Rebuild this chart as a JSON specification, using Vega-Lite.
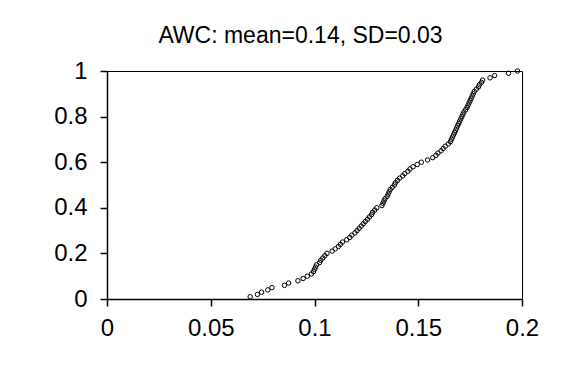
{
  "$schema": "https://vega.github.io/schema/vega-lite/v6.json",
  "autosize": {"type": "none"},
  "padding": {"left": 107, "top": 71, "right": 40, "bottom": 84},
  "width": 415,
  "height": 228,
  "background": "#FFFFFF",
  "title": {
    "text": "AWC: mean=0.14, SD=0.03",
    "font": "Liberation Sans",
    "fontSize": 23,
    "fontWeight": "normal",
    "color": "#000000",
    "anchor": "middle",
    "frame": "group",
    "offset": 11,
    "dx": -14
  },
  "config": {
    "view": {"stroke": "#000000", "strokeWidth": 1},
    "axis": {
      "domainColor": "#000000",
      "domainWidth": 1.5,
      "tickColor": "#000000",
      "tickWidth": 1.5,
      "tickSize": 7,
      "labelFont": "Liberation Sans",
      "labelFontSize": 24,
      "labelColor": "#000000",
      "grid": false,
      "title": null
    }
  },
  "data": {
    "values": [
      {"x": 0.069, "p": 0.01}, {"x": 0.0725, "p": 0.02}, {"x": 0.0745, "p": 0.03}, {"x": 0.0775, "p": 0.04}, {"x": 0.0795, "p": 0.05},
      {"x": 0.0855, "p": 0.06}, {"x": 0.0875, "p": 0.07}, {"x": 0.092, "p": 0.08}, {"x": 0.0945, "p": 0.09}, {"x": 0.0965, "p": 0.10},
      {"x": 0.0985, "p": 0.11}, {"x": 0.0995, "p": 0.12}, {"x": 0.1, "p": 0.13}, {"x": 0.1005, "p": 0.14}, {"x": 0.101, "p": 0.15},
      {"x": 0.1025, "p": 0.16}, {"x": 0.103, "p": 0.17}, {"x": 0.104, "p": 0.18}, {"x": 0.105, "p": 0.19}, {"x": 0.106, "p": 0.20},
      {"x": 0.1085, "p": 0.21}, {"x": 0.11, "p": 0.22}, {"x": 0.1115, "p": 0.23}, {"x": 0.1125, "p": 0.24}, {"x": 0.1135, "p": 0.25},
      {"x": 0.1155, "p": 0.26}, {"x": 0.117, "p": 0.27}, {"x": 0.118, "p": 0.28}, {"x": 0.1195, "p": 0.29}, {"x": 0.1205, "p": 0.30},
      {"x": 0.1215, "p": 0.31}, {"x": 0.1225, "p": 0.32}, {"x": 0.1235, "p": 0.33}, {"x": 0.1245, "p": 0.34}, {"x": 0.1255, "p": 0.35},
      {"x": 0.1265, "p": 0.36}, {"x": 0.1275, "p": 0.37}, {"x": 0.128, "p": 0.38}, {"x": 0.129, "p": 0.39}, {"x": 0.13, "p": 0.40},
      {"x": 0.1325, "p": 0.41}, {"x": 0.133, "p": 0.42}, {"x": 0.1335, "p": 0.43}, {"x": 0.134, "p": 0.44}, {"x": 0.135, "p": 0.45},
      {"x": 0.1355, "p": 0.46}, {"x": 0.136, "p": 0.47}, {"x": 0.1365, "p": 0.48}, {"x": 0.1375, "p": 0.49}, {"x": 0.1385, "p": 0.50},
      {"x": 0.139, "p": 0.51}, {"x": 0.14, "p": 0.52}, {"x": 0.141, "p": 0.53}, {"x": 0.1425, "p": 0.54}, {"x": 0.1435, "p": 0.55},
      {"x": 0.145, "p": 0.56}, {"x": 0.146, "p": 0.57}, {"x": 0.1475, "p": 0.58}, {"x": 0.1495, "p": 0.59}, {"x": 0.1515, "p": 0.60},
      {"x": 0.1545, "p": 0.61}, {"x": 0.157, "p": 0.62}, {"x": 0.1585, "p": 0.63}, {"x": 0.1595, "p": 0.64}, {"x": 0.161, "p": 0.65},
      {"x": 0.162, "p": 0.66}, {"x": 0.163, "p": 0.67}, {"x": 0.1645, "p": 0.68}, {"x": 0.1655, "p": 0.69}, {"x": 0.166, "p": 0.70},
      {"x": 0.1665, "p": 0.71}, {"x": 0.167, "p": 0.72}, {"x": 0.1675, "p": 0.73}, {"x": 0.168, "p": 0.74}, {"x": 0.1685, "p": 0.75},
      {"x": 0.169, "p": 0.76}, {"x": 0.1695, "p": 0.77}, {"x": 0.17, "p": 0.78}, {"x": 0.1705, "p": 0.79}, {"x": 0.171, "p": 0.80},
      {"x": 0.1715, "p": 0.81}, {"x": 0.172, "p": 0.82}, {"x": 0.1728, "p": 0.83}, {"x": 0.1735, "p": 0.84}, {"x": 0.174, "p": 0.85},
      {"x": 0.1745, "p": 0.86}, {"x": 0.175, "p": 0.87}, {"x": 0.1755, "p": 0.88}, {"x": 0.176, "p": 0.89}, {"x": 0.1765, "p": 0.90},
      {"x": 0.177, "p": 0.91}, {"x": 0.178, "p": 0.92}, {"x": 0.179, "p": 0.93}, {"x": 0.1795, "p": 0.94}, {"x": 0.1805, "p": 0.95},
      {"x": 0.181, "p": 0.96}, {"x": 0.1846, "p": 0.97}, {"x": 0.1868, "p": 0.98}, {"x": 0.1935, "p": 0.99}, {"x": 0.1978, "p": 1.00}
    ]
  },
  "mark": {"type": "point", "shape": "circle", "filled": false, "color": "#000000", "size": 20, "strokeWidth": 1, "opacity": 1},
  "encoding": {
    "x": {
      "field": "x",
      "type": "quantitative",
      "scale": {"domain": [0, 0.2], "nice": false, "zero": false},
      "axis": {"values": [0, 0.05, 0.1, 0.15, 0.2], "format": "~g", "labelPadding": 10, "labelFlush": false}
    },
    "y": {
      "field": "p",
      "type": "quantitative",
      "scale": {"domain": [0, 1], "nice": false, "zero": false},
      "axis": {"values": [0, 0.2, 0.4, 0.6, 0.8, 1], "format": "~g", "labelPadding": 13}
    }
  }
}
